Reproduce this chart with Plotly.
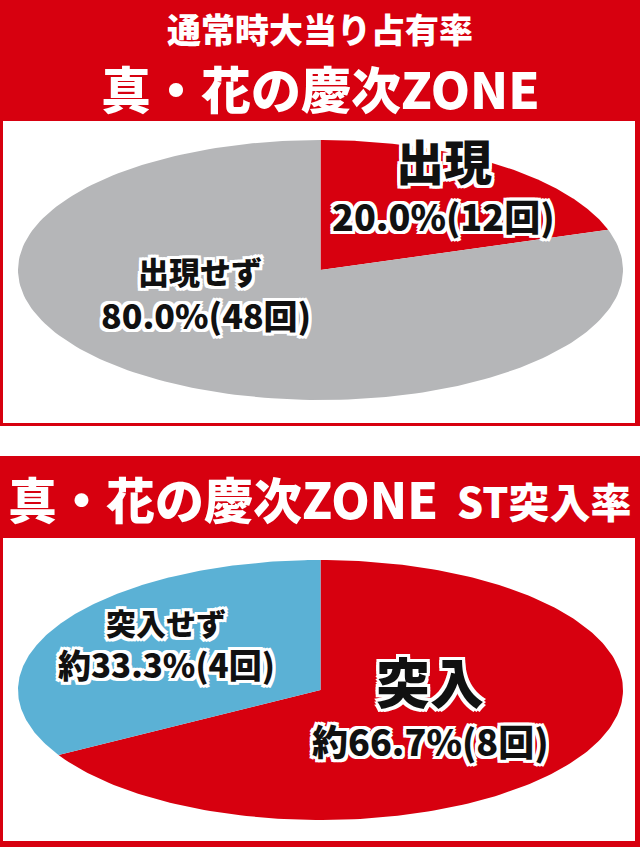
import numpy as np
import plotly.graph_objects as go

W, H = 640, 847

# chart data
titles1 = ["通常時大当り占有率", "真・花の慶次ZONE"]
labels1 = ["出現", "出現せず"]
counts1 = [12, 48]
colors1 = ["#D7000F", "#B5B6B8"]

title2 = "真・花の慶次ZONE"
subtitle2 = "ST突入率"
labels2 = ["突入", "突入せず"]
counts2 = [8, 4]
prefix2 = "約"
colors2 = ["#D7000F", "#5BB1D5"]

RED = "#D7000F"
FONT = "Noto Sans CJK JP"
OUTLINE = ", ".join(f"{dx}px {dy}px 0 #fff" for dx in (-3, 0, 3) for dy in (-3, 0, 3) if dx or dy)


def px(x):
    return x / W


def py(y):
    return (H - y) / H


def wedges(counts):
    # cumulative fractions -> pie sectors on the unit circle, clockwise from 12 o'clock
    total = sum(counts)
    edges = np.cumsum([0] + counts) / total
    out = []
    for a, b in zip(edges[:-1], edges[1:]):
        t = np.linspace(a, b, 200) * 2 * np.pi
        xs = np.concatenate([[0], np.sin(t), [0]])
        ys = np.concatenate([[0], np.cos(t), [0]])
        out.append((xs, ys))
    return out


fig = go.Figure()

for (xs, ys), c in zip(wedges(counts1), colors1):
    fig.add_trace(go.Scatter(x=xs, y=ys, fill="toself", fillcolor=c, mode="lines",
                             line=dict(width=0, color=c), hoverinfo="skip", xaxis="x", yaxis="y"))
for (xs, ys), c in zip(wedges(counts2), colors2):
    fig.add_trace(go.Scatter(x=xs, y=ys, fill="toself", fillcolor=c, mode="lines",
                             line=dict(width=0, color=c), hoverinfo="skip", xaxis="x2", yaxis="y2"))

ax = dict(range=[-1, 1], visible=False, fixedrange=True)
fig.update_layout(
    width=W, height=H, margin=dict(l=0, r=0, t=0, b=0),
    paper_bgcolor="white", plot_bgcolor="rgba(0,0,0,0)", showlegend=False,
    xaxis=dict(ax, domain=[px(18), px(623)]),
    yaxis=dict(ax, domain=[py(400), py(140)]),
    xaxis2=dict(ax, domain=[px(18), px(623)], anchor="y2"),
    yaxis2=dict(ax, domain=[py(820), py(560)], anchor="x2"),
)

# panel frames
for top, bottom, wtop, wbot in [(0, 426, 121, 423), (456, 847, 538, 841)]:
    fig.add_shape(type="rect", xref="paper", yref="paper", x0=0, x1=1, y0=py(bottom), y1=py(top),
                  fillcolor=RED, line_width=0, layer="below")
    fig.add_shape(type="rect", xref="paper", yref="paper", x0=px(3), x1=px(635), y0=py(wbot), y1=py(wtop),
                  fillcolor="white", line_width=0, layer="below")


def note(text, x, y, size, color="white", xanchor="center", outline=False):
    fig.add_annotation(text=text, x=px(x), y=py(y), xref="paper", yref="paper",
                       xanchor=xanchor, yanchor="middle", showarrow=False, borderpad=0,
                       font=dict(family=FONT, size=size, color=color, weight=900,
                                 shadow=OUTLINE if outline else "none"))


# headers
note(titles1[0], 320, 29, 34)
note(titles1[1], 320, 87, 50)
note(title2, 7, 497, 49, xanchor="left")
note(subtitle2, 456, 500, 41, xanchor="left")

# slice labels
tot1 = sum(counts1)
pct1 = [f"{100 * c / tot1:.1f}%({c}回)" for c in counts1]
note(labels1[0], 444, 159, 48, "#111", outline=True)
note(pct1[0], 443, 215, 36, "#111", outline=True)
note(labels1[1], 200, 271, 31, "#111", outline=True)
note(pct1[1], 206, 314, 34, "#111", outline=True)

tot2 = sum(counts2)
pct2 = [f"{prefix2}{100 * c / tot2:.1f}%({c}回)" for c in counts2]
note(labels2[0], 430, 680, 54, "#111", outline=True)
note(pct2[0], 430, 740, 36, "#111", outline=True)
note(labels2[1], 166, 622, 30, "#111", outline=True)
note(pct2[1], 166, 664, 33, "#111", outline=True)

fig.write_html("out.html", config={"displayModeBar": False},
               post_script="document.body.style.margin='0';")
